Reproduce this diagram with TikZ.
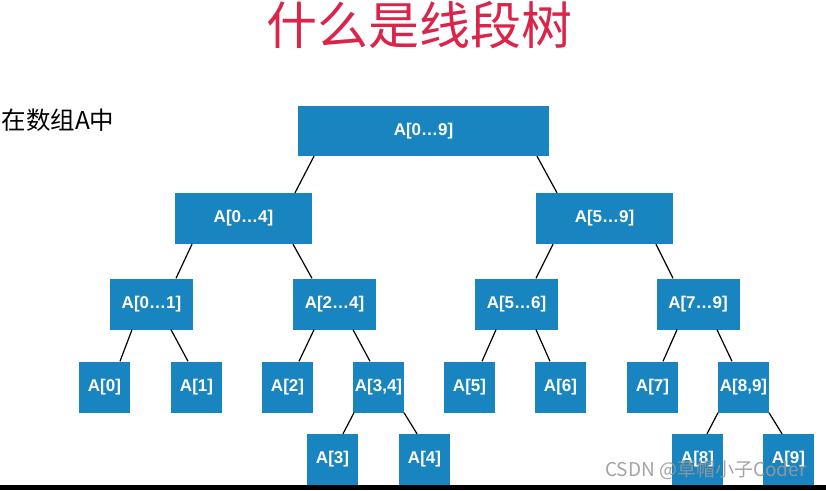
\documentclass[tikz,border=0pt]{standalone}
\usepackage{fontspec}
\setmainfont{Liberation Sans}
\newfontfamily\cjk{Noto Sans CJK SC}
\definecolor{segblue}{RGB}{24,132,192}
\definecolor{titlered}{RGB}{218,36,74}

\begin{document}
\begin{tikzpicture}[x=1pt, y=-1pt,
    box/.style={fill=segblue, text=white, font=\fontsize{17}{20}\selectfont\bfseries, minimum height=51pt, inner sep=0pt},
    leaf/.style={box, minimum width=51pt},
    link/.style={black, line width=1.2pt}]
    \useasboundingbox (0,0) rectangle (826,490);

    % Title and intro text
    \node (title) at (419,25) [text=titlered, font=\cjk\fontsize{51}{56}\selectfont] {什么是线段树};
    \node (intro) at (-2,120) [anchor=west, font=\cjk\fontsize{24.5}{28}\selectfont] {在数组A中};

    % Nodes
    \node (r) at (423.5,131) [box, minimum width=251pt, minimum height=50pt] {A[0…9]};

    \node (a04) at (243.5,218.5) [box, minimum width=137pt] {A[0…4]};
    \node (a59) at (604.5,218.5) [box, minimum width=137pt] {A[5…9]};

    \node (a01) at (151.5,304) [box, minimum width=83pt] {A[0…1]};
    \node (a24) at (334.5,304) [box, minimum width=83pt] {A[2…4]};
    \node (a56) at (516.5,304) [box, minimum width=83pt] {A[5…6]};
    \node (a79) at (698,304) [box, minimum width=83pt] {A[7…9]};

    \node (a0) at (104.5,387) [leaf] {A[0]};
    \node (a1) at (196.5,387) [leaf] {A[1]};
    \node (a2) at (287.5,387) [leaf] {A[2]};
    \node (a34) at (378.5,387) [leaf] {A[3,4]};
    \node (a5) at (469.5,387) [leaf] {A[5]};
    \node (a6) at (560.5,387) [leaf] {A[6]};
    \node (a7) at (652.5,387) [leaf] {A[7]};
    \node (a89) at (743.5,387) [leaf] {A[8,9]};

    \node (a3) at (332.5,459.5) [leaf] {A[3]};
    \node (a4) at (424.5,459.5) [leaf] {A[4]};
    \node (a8) at (697.5,459.5) [leaf] {A[8]};
    \node (a9) at (788.5,459.5) [leaf] {A[9]};

    % Links
    \foreach \p/\c/\ps/\cs in {r/a04/-109.5/51.5, r/a59/113.5/-47.5,
        a04/a01/-51.5/24.5, a04/a24/49.5/-22.5, a59/a56/-51.5/19.5, a59/a79/51.5/-25,
        a01/a0/-19.5/15.5, a01/a1/19.5/-8.5, a24/a2/-20.5/11.5, a24/a34/18.5/-8.5,
        a56/a5/-20.5/12.5, a56/a6/19.5/-10.5, a79/a7/-21/10.5, a79/a89/19/-11.5,
        a34/a3/-24.5/10.5, a34/a4/25.5/-7.5, a89/a8/-25.5/9.5, a89/a9/25.5/-6.5}
        \draw[link] ([xshift=\ps pt]\p.south) -- ([xshift=\cs pt]\c.north);

    % Bottom bar and watermark
    \fill[black] (0,485) rectangle (826,490);
    \node (mark) at (706,470) [text=gray!80, opacity=0.9, font=\cjk\fontsize{19}{22}\selectfont] {CSDN @草帽小子Coder};
\end{tikzpicture}
\end{document}
